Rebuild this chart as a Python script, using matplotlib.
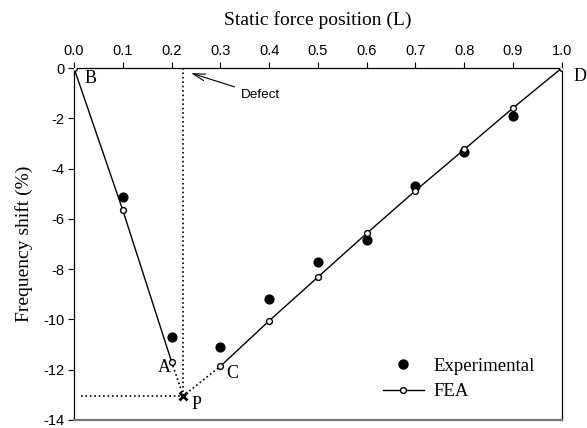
import matplotlib
matplotlib.use("Agg")
import matplotlib.pyplot as plt
from matplotlib.lines import Line2D

positions = [0.0, 0.1, 0.2, 0.3, 0.4, 0.5, 0.6, 0.7, 0.8, 0.9, 1.0]
fea = [0.0, -5.65, -11.68, -11.87, -10.06, -8.32, -6.58, -4.88, -3.24, -1.59, 0.0]
exp_x = [0.1, 0.2, 0.3, 0.4, 0.5, 0.6, 0.7, 0.8, 0.9]
exp_y = [-5.13, -10.72, -11.09, -9.2, -7.72, -6.83, -4.69, -3.34, -1.9]
p_x, p_y = 0.224, -13.05
xticks = [0.0, 0.1, 0.2, 0.3, 0.4, 0.5, 0.6, 0.7, 0.8, 0.9, 1.0]
yticks = [0, -2, -4, -6, -8, -10, -12, -14]

serif = ["Liberation Serif", "DejaVu Serif"]
sans = ["Liberation Sans", "DejaVu Sans"]

fig = plt.figure(figsize=(5.87, 4.28), dpi=100)
ax = fig.add_axes([0.126, 0.019, 0.831, 0.822])

# FEA segments
ax.plot(positions[:3], fea[:3], color="black", lw=1.0, zorder=2)
ax.plot(positions[3:], fea[3:], color="black", lw=1.0, zorder=2)
# dotted lines
ax.plot([positions[2], p_x, positions[3]], [fea[2], p_y, fea[3]], ls=":", color="black", lw=1.2, zorder=1)
ax.plot([p_x, p_x], [0, p_y], ls=":", color="black", lw=1.2, zorder=1)
ax.plot([0.015, p_x], [p_y, p_y], ls=":", color="black", lw=1.2, zorder=1)
ax.plot([p_x], [p_y], marker="x", color="black", ms=5.5, mew=2, zorder=4)

ax.scatter(exp_x, exp_y, s=40, color="black", zorder=3)
ax.plot(positions, fea, ls="none", marker="o", ms=4.2, mfc="white", mec="black", mew=1.0, zorder=4)

# labels
ax.text(0.033, -0.4, "B", fontsize=13, family=serif, ha="center", va="center")
ax.text(1.037, -0.35, "D", fontsize=13, family=serif, ha="center", va="center", clip_on=False)
ax.text(0.186, -11.9, "A", fontsize=13, family=serif, ha="center", va="center")
ax.text(0.325, -12.17, "C", fontsize=13, family=serif, ha="center", va="center")
ax.text(0.252, -13.4, "P", fontsize=13, family=serif, ha="center", va="center")

ax.annotate("Defect", xy=(0.24, -0.2), xytext=(0.343, -1.08), fontsize=9.7, family=sans,
            ha="left", va="center",
            arrowprops=dict(arrowstyle="->,head_length=0.9,head_width=0.25", color="black", lw=0.8,
                            shrinkA=3, shrinkB=0))

ax.set_xlim(0, 1.0)
ax.set_ylim(-14, 0)
ax.xaxis.tick_top()
ax.xaxis.set_label_position("top")
ax.set_xticks(xticks)
ax.set_xticklabels([f"{v:.1f}" for v in xticks], family=sans, fontsize=10.5)
ax.set_yticks(yticks)
ax.set_yticklabels([str(v) for v in yticks], family=sans, fontsize=10.5)
ax.tick_params(direction="out", length=4, width=0.8, pad=3)
ax.set_xlabel("Static force position (L)", family=serif, fontsize=14, labelpad=14)
ax.set_ylabel("Frequency shift (%)", family=serif, fontsize=14, labelpad=7)

for s in ["left", "right", "top"]:
    ax.spines[s].set_linewidth(0.9)
ax.spines["bottom"].set_color("#777777")
ax.spines["bottom"].set_linewidth(1.6)

handles = [Line2D([], [], ls="none", marker="o", ms=6.5, color="black"),
           Line2D([], [], color="black", lw=1.0, marker="o", ms=4.2, mfc="white", mec="black")]
ax.legend(handles, ["Experimental", "FEA"], loc="lower right", bbox_to_anchor=(0.979, 0.008),
          frameon=False, prop={"family": serif, "size": 13.5}, handlelength=2.2,
          labelspacing=0.45, handletextpad=0.5)

fig.savefig("out.png", dpi=100)
